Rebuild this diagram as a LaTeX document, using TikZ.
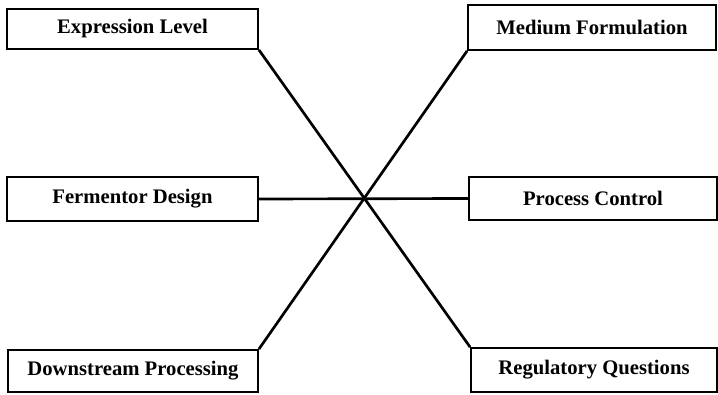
\documentclass[tikz,border=0pt]{standalone}
\usepackage{fontspec}
\setmainfont{Liberation Serif}
\begin{document}
\begin{tikzpicture}[x=0.75pt,y=-0.75pt,
  box/.style={draw, line width=1.4pt, rectangle, inner sep=0pt,
    font=\fontsize{15.5}{17}\selectfont\bfseries},
  link/.style={line width=2pt}]
\useasboundingbox (0,0) rectangle (718,395);
% left column
\node[box, minimum width=188.25pt, minimum height=30pt] (el) at (132.5,29) {Expression Level};
\node[box, minimum width=188.25pt, minimum height=33pt] (fd) at (132.5,199) {Fermentor Design};
\node[box, minimum width=187.5pt, minimum height=31.5pt] (dp) at (133,371) {Downstream Processing};
% right column
\node[box, minimum width=186pt, minimum height=33.75pt] (mf) at (592,27.5) {Medium Formulation};
\node[box, minimum width=186pt, minimum height=32.25pt] (pc) at (593,198.5) {Process Control};
\node[box, minimum width=184.5pt, minimum height=33pt] (rq) at (594,370) {Regulatory Questions};
% crossing connectors
\draw[link] (el.south east) -- (rq.north west);
\draw[link] (mf.south west) -- (dp.north east);
\draw[link] (fd.east) -- (pc.west);
\end{tikzpicture}
\end{document}
